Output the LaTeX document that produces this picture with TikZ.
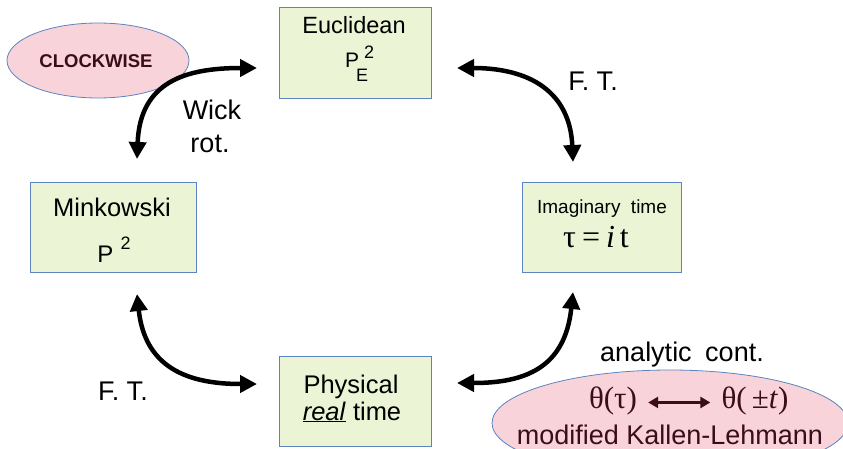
\documentclass[tikz,border=0pt]{standalone}
\usepackage{fontspec}
\setmainfont{Liberation Sans}
\newfontfamily\serifm{Liberation Serif}
\usetikzlibrary{arrows.meta,shapes.geometric}
\definecolor{boxfill}{HTML}{EBF5D5}
\definecolor{boxline}{HTML}{5B84C0}
\definecolor{pinkfill}{HTML}{F9D3DA}
\definecolor{darkred}{HTML}{3B0D1A}
\begin{document}
\begin{tikzpicture}[x=1pt,y=-1pt,
  stage/.style={draw=boxline, fill=boxfill, line width=0.9pt, rectangle, inner sep=0pt},
  bubble/.style={draw=boxline, fill=pinkfill, line width=0.8pt, ellipse, inner sep=0pt},
  txt/.style={inner sep=0pt, anchor=base},
  bigarrow/.style={line width=4.5pt, {Triangle[length=17pt,width=17pt]}-{Triangle[length=17pt,width=17pt]}},
  smallarrow/.style={darkred, line width=2.8pt, {Triangle[length=10pt,width=11pt]}-{Triangle[length=10pt,width=11pt]}},
  lbl/.style={txt, font=\fontsize{27}{33}\selectfont},
  ]
\useasboundingbox (0,0) rectangle (843,448);

% ellipses
\node[bubble, minimum width=182pt, minimum height=75pt] (cw) at (98,60.5) {};
\node[txt, font=\bfseries\fontsize{18.5}{22}\selectfont, text=darkred] (cwT) at (96,67) {CLOCKWISE};
\node[bubble, minimum width=356pt, minimum height=106pt] (kl) at (670,423) {};

% boxes
\node[stage, minimum width=152pt, minimum height=91pt] (eucl) at (355,52.5) {};
\node[stage, minimum width=166pt, minimum height=90pt] (mink) at (113,227) {};
\node[stage, minimum width=159pt, minimum height=90pt] (imag) at (601.5,227) {};
\node[stage, minimum width=152pt, minimum height=90pt] (phys) at (355,401) {};

% box texts
\node[txt, font=\fontsize{23.5}{27}\selectfont] (euclT) at (354,33) {Euclidean};
\node[txt, anchor=base west, font=\fontsize{21}{24}\selectfont] (euclP) at (345,67)
  {P\kern-3pt\rlap{\raisebox{-14pt}{\fontsize{18}{20}\selectfont E}}\kern8pt\raisebox{9pt}{\fontsize{18}{20}\selectfont 2}};
\node[txt, font=\fontsize{25.5}{28}\selectfont] (minkT) at (112,216) {Minkowski};
\node[txt, font=\fontsize{24}{28}\selectfont] (minkP) at (114,262)
  {P\hspace{7pt}\raisebox{13pt}{\fontsize{18}{20}\selectfont 2}};
\node[txt, font=\fontsize{19}{22}\selectfont] (imagT) at (602,213) {Imaginary\hspace{0.55em}time};
\node[txt, font=\serifm\fontsize{32}{36}\selectfont] (imagE) at (596,247) {τ\kern6pt=\kern6pt\textit{i}\kern5pt t};
\node[txt, font=\fontsize{25.5}{28}\selectfont] (physT) at (351,393) {Physical};
\node[txt, font=\fontsize{25.5}{28}\selectfont] (physR) at (352,420) {\underline{\textit{real}} time};

% connector end points
\coordinate (wA) at (137,159);
\coordinate (wB) at (257,68);
\coordinate (fA) at (457,68);
\coordinate (fB) at (573,162);
\coordinate (gA) at (137,294);
\coordinate (gB) at (257,384);
\coordinate (aA) at (573,292);
\coordinate (aB) at (457,383);

\draw[bigarrow] (wA) .. controls (140,82) and (185,68) .. (wB);
\draw[bigarrow] (fA) .. controls (530,68) and (570,92) .. (fB);
\draw[bigarrow] (gA) .. controls (145,368) and (188,384) .. (gB);
\draw[bigarrow] (aA) .. controls (565,368) and (525,383) .. (aB);

% labels
\node[lbl] (wick1) at (212,119) {Wick};
\node[lbl] (wick2) at (210,152) {rot.};
\node[lbl] (ft1) at (593,90) {F. T.};
\node[lbl] (ft2) at (123,400) {F. T.};
\node[lbl] (ac) at (682,361) {analytic\hspace{0.5em}cont.};

% ellipse content
\node[txt, font=\serifm\fontsize{31}{34}\selectfont, text=darkred] (thA) at (613,408) {θ(τ)};
\node[txt, font=\serifm\fontsize{31}{34}\selectfont, text=darkred] (thB) at (755,408) {θ(\,±\textit{t})};
\draw[smallarrow] ([xshift=11pt,yshift=-2pt]thA.east) -- ([xshift=-11pt,yshift=-2pt]thB.west);
\node[lbl, text=darkred] (klT) at (670,444) {modified Kallen-Lehmann};
\end{tikzpicture}
\end{document}
